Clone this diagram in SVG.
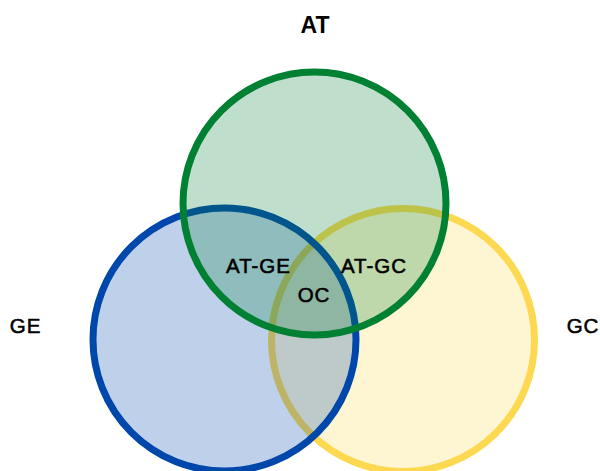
<svg xmlns="http://www.w3.org/2000/svg" width="600" height="471" viewBox="0 0 600 471">
  <style>
    .set { stroke-width: 7; fill-opacity: 0.25; }
    .lbl { font-family: "Liberation Sans", Arial, sans-serif; font-size: 20.5px; fill: #000; stroke: #000; stroke-width: 0.55px; text-anchor: middle; letter-spacing: 1px; }
    .title { font-family: "Liberation Sans", Arial, sans-serif; font-size: 23px; font-weight: bold; fill: #000; text-anchor: middle; }
  </style>
  <rect width="600" height="471" fill="#ffffff"/>
  <g id="GC">
    <circle class="set" cx="403" cy="340" r="131.5" fill="#fcd950" stroke="#fcd950"/>
    <text class="lbl" x="583" y="333">GC</text>
  </g>
  <g id="GE">
    <circle class="set" cx="224.5" cy="339.5" r="131.5" fill="#0047ab" stroke="#0047ab"/>
    <text class="lbl" x="25.5" y="333">GE</text>
  </g>
  <g id="AT">
    <circle class="set" cx="314.5" cy="203.5" r="131.5" fill="#008032" stroke="#008032"/>
    <text class="title" x="315" y="33">AT</text>
  </g>
  <g id="AT-GE">
    <text class="lbl" x="258.5" y="273">AT-GE</text>
  </g>
  <g id="AT-GC">
    <text class="lbl" x="374" y="273">AT-GC</text>
  </g>
  <g id="OC">
    <text class="lbl" x="314" y="302">OC</text>
  </g>
  <g id="connectors"></g>
</svg>
